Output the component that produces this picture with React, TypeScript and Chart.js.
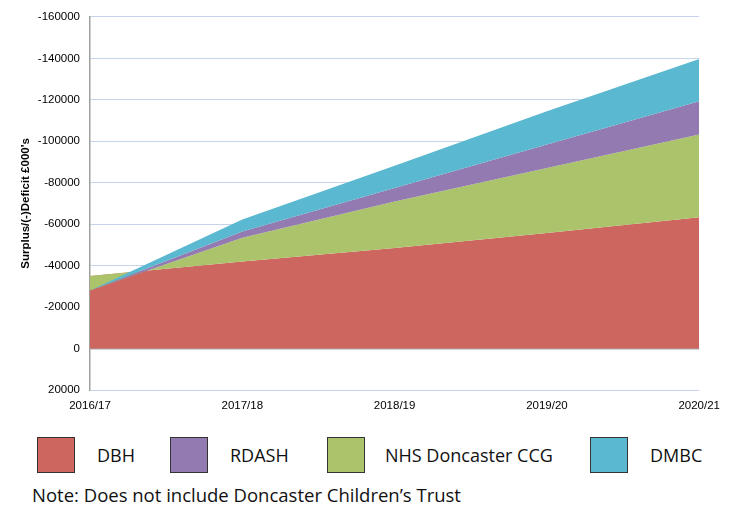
import React, { useEffect, useRef } from "react";
import { Chart, registerables } from "chart.js";

Chart.register(...registerables);

const categories = ["2016/17", "2017/18", "2018/19", "2019/20", "2020/21"];
const seriesNames = ["DBH", "RDASH", "NHS Doncaster CCG", "DMBC"];
const dbh = [-35000, -42000, -48500, -55700, -63400];
const ccg = [7000, -11400, -22500, -31400, -39900];
const rdash = [0, -3100, -6400, -11300, -16000];
const dmbc = [0, -5700, -10800, -16100, -20400];
const yMin = -160000;
const yMax = 20000;
const yStep = 20000;
const axisTitle = "Surplus/(-)Deficit £000's";
const note = "Note: Does not include Doncaster Children\u2019s Trust";

const RED = "#cc665e";
const PURPLE = "#937ab0";
const GREEN = "#abc46c";
const BLUE = "#5ab8d0";

function cumulative(...arrs: number[][]): number[] {
  return arrs[0].map((_, i) => arrs.reduce((s, a) => s + a[i], 0));
}

export default function App() {
  const ref = useRef<HTMLCanvasElement | null>(null);

  useEffect(() => {
    if (!ref.current) return;
    const c1 = cumulative(dbh);
    const c2 = cumulative(dbh, ccg);
    const c3 = cumulative(dbh, ccg, rdash);
    const c4 = cumulative(dbh, ccg, rdash, dmbc);
    const base = { pointRadius: 0, borderWidth: 0, tension: 0 };
    const chart = new Chart(ref.current, {
      type: "line",
      data: {
        labels: categories,
        datasets: [
          { ...base, label: seriesNames[0], data: c1, backgroundColor: RED, borderColor: RED, fill: "origin", order: 3 },
          { ...base, label: seriesNames[2], data: c2, backgroundColor: GREEN, borderColor: GREEN, fill: 0, order: 2 },
          { ...base, label: seriesNames[1], data: c3, backgroundColor: PURPLE, borderColor: PURPLE, fill: 1, order: 1 },
          { ...base, label: seriesNames[3], data: c4, backgroundColor: BLUE, borderColor: BLUE, fill: 2, order: 0 },
        ],
      },
      options: {
        responsive: false,
        animation: false,
        layout: { padding: { top: 14, right: 29, left: 0, bottom: 0 } },
        plugins: { legend: { display: false }, tooltip: { enabled: false } },
        scales: {
          x: {
            type: "category",
            offset: false,
            grid: { display: false, drawTicks: false },
            border: { display: false },
            ticks: {
              color: "#000",
              padding: 9,
              maxRotation: 0,
              font: { family: "'Liberation Sans', Arial, sans-serif", size: 11.5 },
            },
            afterFit: (s: any) => {
              s.height = 30;
            },
          },
          y: {
            reverse: true,
            min: yMin,
            max: yMax,
            ticks: {
              stepSize: yStep,
              color: "#000",
              padding: 10,
              callback: (v: any) => String(v),
              font: { family: "'Liberation Sans', Arial, sans-serif", size: 11.5 },
            },
            grid: {
              drawTicks: false,
              color: (ctx: any) => (ctx.tick && ctx.tick.value === 0 ? "#a6a6a6" : "#c5d4ea"),
              lineWidth: (ctx: any) => (ctx.tick && ctx.tick.value === 0 ? 1.5 : 1),
            },
            border: { display: true, color: "#a0a0a0", width: 1.5 },
            title: {
              display: true,
              text: axisTitle,
              color: "#000",
              padding: { top: 19, bottom: 0 },
              font: { family: "'Liberation Sans', Arial, sans-serif", size: 11.5, weight: "bold" },
            },
            afterFit: (s: any) => {
              s.width = 90;
            },
          },
        },
      },
    });
    return () => chart.destroy();
  }, []);

  const legendItems = [
    { name: seriesNames[0], color: RED, box: 37, text: 97 },
    { name: seriesNames[1], color: PURPLE, box: 170, text: 230 },
    { name: seriesNames[2], color: GREEN, box: 327, text: 385 },
    { name: seriesNames[3], color: BLUE, box: 590, text: 650 },
  ];

  return (
    <div style={{ position: "absolute", left: 0, top: 0, width: 729, height: 505, background: "#fff", overflow: "hidden" }}>
      <canvas ref={ref} width={729} height={420} style={{ position: "absolute", left: 0, top: 0 }} />
      {legendItems.map((it) => (
        <React.Fragment key={it.name}>
          <div
            style={{
              position: "absolute",
              left: it.box,
              top: 437,
              width: 36,
              height: 34,
              background: it.color,
              border: "1.5px solid #333",
            }}
          />
          <div
            style={{
              position: "absolute",
              left: it.text,
              top: 443,
              fontFamily: "'Open Sans', sans-serif",
              fontSize: 18,
              lineHeight: "24px",
              color: "#111",
              whiteSpace: "nowrap",
            }}
          >
            {it.name}
          </div>
        </React.Fragment>
      ))}
      <div
        style={{
          position: "absolute",
          left: 32,
          top: 483,
          fontFamily: "'Open Sans', sans-serif",
          fontSize: 18.5,
          lineHeight: "23px",
          color: "#111",
          whiteSpace: "nowrap",
        }}
      >
        {note}
      </div>
    </div>
  );
}
